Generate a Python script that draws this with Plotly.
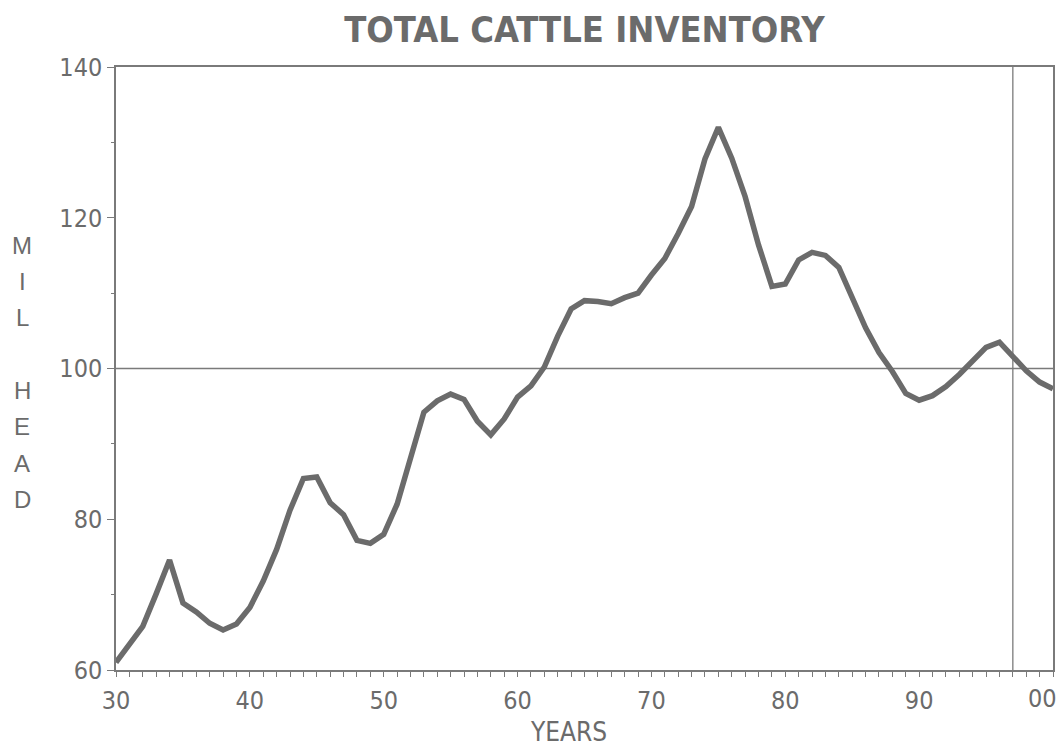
import plotly.graph_objects as go

# ---------------- data ----------------
years = list(range(1930, 2001))
inventory = [61.0, 63.5, 65.8, 70.1, 74.6, 68.9, 67.7, 66.2, 65.3, 66.1,
             68.3, 71.8, 76.0, 81.2, 85.4, 85.6, 82.2, 80.6, 77.2, 76.8,
             78.0, 82.0, 88.0, 94.2, 95.7, 96.6, 95.9, 93.0, 91.2, 93.3,
             96.2, 97.7, 100.2, 104.3, 107.9, 109.0, 108.9, 108.6, 109.4, 110.0,
             112.4, 114.6, 117.9, 121.5, 127.8, 132.0, 127.9, 122.8, 116.4, 110.9,
             111.2, 114.4, 115.4, 115.0, 113.4, 109.6, 105.4, 102.1, 99.6, 96.7,
             95.8, 96.4, 97.6, 99.2, 101.0, 102.8, 103.5, 101.7, 99.7, 98.2, 97.3]
decade_ticks = [1930, 1940, 1950, 1960, 1970, 1980, 1990, 2000]
decade_labels = ["30", "40", "50", "60", "70", "80", "90", ""]
last_label = "00"
y_major = [60, 80, 100, 120, 140]
y_minor = [70, 90, 110, 130]
ref_level = 100
divider_year = 1997
ylabel_letters = ["M", "I", "L", "", "H", "E", "A", "D"]

# ---------------- style ----------------
GRAY = "#6b6b6b"
AXIS = "#7a7a7a"
NARROW = "Liberation Sans Narrow, Arial Narrow, DejaVu Sans Condensed, sans-serif"
PLAIN = "Liberation Sans, Arial, sans-serif"

W, H = 1061, 748
L, R, T, B = 116, 8, 67, 78
plot_w, plot_h = W - L - R, H - T - B

fig = go.Figure()
fig.add_trace(go.Scatter(x=years, y=inventory, mode="lines",
                         line=dict(color=GRAY, width=5.5),
                         hoverinfo="skip", showlegend=False))

fig.add_shape(type="line", xref="paper", x0=0, x1=1, yref="y", y0=ref_level, y1=ref_level,
              line=dict(color=AXIS, width=1.3), layer="below")
fig.add_shape(type="line", xref="x", x0=divider_year, x1=divider_year, yref="paper", y0=0, y1=1,
              line=dict(color=AXIS, width=1.3), layer="below")

fig.update_layout(
    width=W, height=H,
    margin=dict(l=L, r=R, t=T, b=B),
    plot_bgcolor="white", paper_bgcolor="white",
    showlegend=False,
    title=dict(text="<b>TOTAL CATTLE INVENTORY</b>", x=0.5, xanchor="center",
               xref="paper", y=1 - 29 / H, yref="container", yanchor="middle",
               font=dict(family=NARROW, size=36, color=GRAY)),
    xaxis=dict(range=[1930, 2000], showline=True, linecolor=AXIS, linewidth=1.5, mirror=True,
               showgrid=False, zeroline=False, automargin=False,
               tickmode="array", tickvals=decade_ticks, ticktext=decade_labels,
               ticks="outside", ticklen=5, tickwidth=1.2, tickcolor=AXIS,
               minor=dict(tickmode="array", tickvals=years, ticks="outside",
                          ticklen=5, tickwidth=1.2, tickcolor=AXIS, showgrid=False),
               tickfont=dict(family=NARROW, size=25, color=GRAY),
               ticklabelstandoff=2),
    xaxis2=dict(range=[1930, 2000], overlaying="x", anchor="y", side="bottom",
                showline=False, showgrid=False, zeroline=False, showticklabels=False,
                automargin=False,
                tickmode="array", tickvals=years, ticks="inside", ticklen=5,
                tickwidth=1.2, tickcolor=AXIS),
    yaxis=dict(range=[60, 140], showline=True, linecolor=AXIS, linewidth=1.5, mirror=True,
               showgrid=False, zeroline=False, automargin=False,
               tickmode="array", tickvals=y_major, ticks="outside", ticklen=7,
               tickwidth=1.2, tickcolor=AXIS,
               minor=dict(tickmode="array", tickvals=y_minor, ticks="outside",
                          ticklen=3, tickwidth=1.2, tickcolor=AXIS, showgrid=False),
               tickfont=dict(family=NARROW, size=25, color=GRAY)),
    yaxis2=dict(range=[60, 140], overlaying="y", anchor="x", side="left",
                showline=False, showgrid=False, zeroline=False, showticklabels=False,
                automargin=False,
                tickmode="array", tickvals=y_major, ticks="inside", ticklen=7,
                tickwidth=1.2, tickcolor=AXIS,
                minor=dict(tickmode="array", tickvals=y_minor, ticks="inside",
                           ticklen=3, tickwidth=1.2, tickcolor=AXIS, showgrid=False)),
)

# last x tick label, kept inside the page
fig.add_annotation(x=decade_ticks[-1], xref="x", y=0, yref="paper", yshift=-12, xshift=6,
                   text=last_label, showarrow=False, xanchor="right", yanchor="top",
                   font=dict(family=NARROW, size=25, color=GRAY))

# x axis title
fig.add_annotation(x=(568 - L) / plot_w, xref="paper", xanchor="center",
                   y=(H - B - 732) / plot_h, yref="paper", yanchor="middle",
                   text="YEARS", showarrow=False,
                   font=dict(family=NARROW, size=26, color=GRAY))

# stacked vertical y label
top_px, step_px = 245, 36.4
for i, ch in enumerate(ylabel_letters):
    if not ch:
        continue
    py = top_px + i * step_px
    fig.add_annotation(x=(22 - L) / plot_w, xref="paper", xanchor="center",
                       y=(H - B - py) / plot_h, yref="paper", yanchor="middle",
                       text=ch, showarrow=False,
                       font=dict(family=PLAIN, size=24, color=GRAY))

fig.write_html("out.html", config={"displayModeBar": False},
               post_script="document.body.style.margin='0';document.body.style.overflow='hidden';")
